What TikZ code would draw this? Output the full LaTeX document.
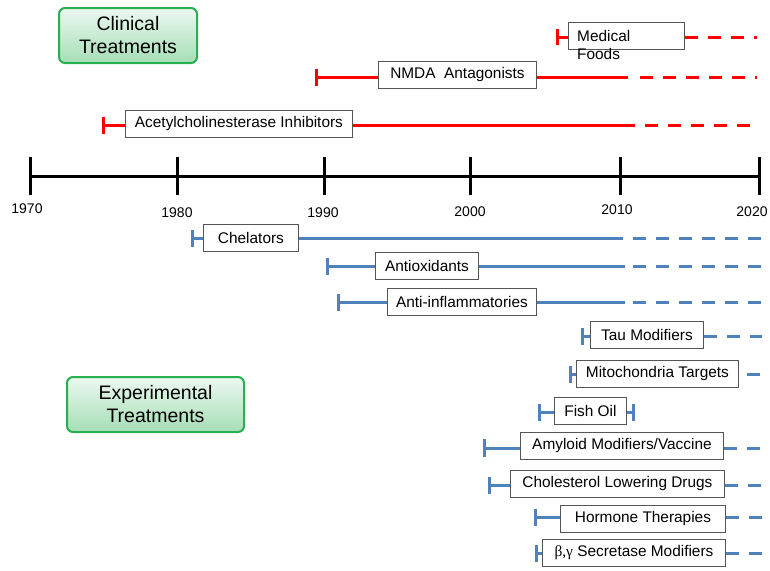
\documentclass[tikz,border=0pt]{standalone}
\usepackage{fontspec}
\setmainfont{Liberation Sans}
\newfontfamily\greekserif{Liberation Serif}
\definecolor{tlred}{RGB}{255,0,0}
\definecolor{tlblue}{RGB}{79,129,189}
\definecolor{boxgray}{RGB}{85,85,85}
\definecolor{tgreen}{RGB}{40,175,80}
\definecolor{tlight}{RGB}{236,248,240}
\definecolor{tdark}{RGB}{165,222,182}
\tikzset{
  box/.style={draw=boxgray, line width=0.9pt, fill=white, minimum height=27pt, inner sep=0pt, font=\fontsize{15.4}{18}\selectfont, anchor=west},
  rl/.style={draw=tlred, line width=3pt},
  bl/.style={draw=tlblue, line width=3pt},
  dsh/.style={dash pattern=on 13pt off 10pt},
  title/.style={draw=tgreen, line width=2pt, rounded corners=6pt, top color=tlight, bottom color=tdark, align=center, font=\fontsize{19.5}{23}\selectfont, inner sep=0pt},
  yr/.style={font=\fontsize{14}{16}\selectfont},
  tickline/.style={line width=3pt, draw=black}
}
\begin{document}
\begin{tikzpicture}[x=1pt,y=-1pt]
\useasboundingbox (0,0) rectangle (770,570);
% titles
\node[title, minimum width=138pt, minimum height=55pt] (clin) at (128,35.5) {Clinical\\Treatments};
\node[title, minimum width=177pt, minimum height=55pt] (expt) at (155.5,404.5) {Experimental\\Treatments};
% axis
\coordinate (t1970) at (30,176);
\coordinate (t1980) at (177,176);
\coordinate (t1990) at (324,176);
\coordinate (t2000) at (470,176);
\coordinate (t2010) at (620,176);
\coordinate (t2020) at (759,176);
\draw[tickline] (t1970) -- (t2020);
\foreach \t in {t1970,t1980,t1990,t2000,t2010,t2020}
  \draw[tickline] ([yshift=19pt]\t) -- ([yshift=-19pt]\t);
\node[yr] (y1970) at (27,209) {1970};
\node[yr] (y1980) at (177,213) {1980};
\node[yr] (y1990) at (323,213) {1990};
\node[yr] (y2000) at (470,212) {2000};
\node[yr] (y2010) at (617,210) {2010};
\node[yr] (y2020) at (752,212) {2020};
% ---------- clinical (red)
% Medical Foods
\coordinate (bmf) at (557,37);
\node[box, minimum width=116pt] (mf) at (568,35.5) {};
\node[anchor=north west, align=left, inner sep=0pt, font=\fontsize{15.4}{18}\selectfont] (mftext) at (577,30.5) {Medical\\Foods};
\coordinate (emf) at (757,37);
\draw[rl] ([yshift=8pt]bmf) -- ([yshift=-8pt]bmf);
\draw[rl] (bmf) -- (mf.west |- bmf);
\draw[rl,dsh] (mf.east |- bmf) -- (emf);
% NMDA
\coordinate (bnm) at (316,77);
\node[box, minimum width=158pt] (nmda) at (378,75) {NMDA\ \ Antagonists};
\coordinate (snm) at (628,77);
\coordinate (dnm) at (640,77);
\coordinate (enm) at (757,77);
\draw[rl] ([yshift=8.5pt]bnm) -- ([yshift=-8.5pt]bnm);
\draw[rl] (bnm) -- (nmda.west |- bnm);
\draw[rl] (nmda.east |- bnm) -- (snm);
\draw[rl,dsh] (dnm) -- (enm);
% AChE
\coordinate (bac) at (103,125);
\node[box, minimum width=227pt] (ache) at (125,123.5) {Acetylcholinesterase Inhibitors};
\coordinate (sac) at (635,125);
\coordinate (dac) at (645,125);
\coordinate (eac) at (758,125);
\draw[rl] ([yshift=8.5pt]bac) -- ([yshift=-8.5pt]bac);
\draw[rl] (bac) -- (ache.west |- bac);
\draw[rl] (ache.east |- bac) -- (sac);
\draw[rl,dsh] (dac) -- (eac);
% ---------- experimental (blue)
% Chelators
\coordinate (bch) at (192,238);
\node[box, minimum width=95pt] (chel) at (203,237.5) {Chelators};
\coordinate (sch) at (623,238);
\coordinate (dch) at (633,238);
\coordinate (ech) at (770,238);
\draw[bl] ([yshift=8.5pt]bch) -- ([yshift=-8.5pt]bch);
\draw[bl] (bch) -- (chel.west |- bch);
\draw[bl] (chel.east |- bch) -- (sch);
\draw[bl,dsh] (dch) -- (ech);
% Antioxidants
\coordinate (bao) at (327,266);
\node[box, minimum width=103pt] (antiox) at (375,265.5) {Antioxidants};
\coordinate (sao) at (625,266);
\coordinate (dao) at (633,266);
\coordinate (eao) at (765,266);
\draw[bl] ([yshift=8.5pt]bao) -- ([yshift=-8.5pt]bao);
\draw[bl] (bao) -- (antiox.west |- bao);
\draw[bl] (antiox.east |- bao) -- (sao);
\draw[bl,dsh] (dao) -- (eao);
% Anti-inflammatories
\coordinate (bai) at (338,302);
\node[box, minimum width=149pt] (antiinf) at (387,301.5) {Anti-inflammatories};
\coordinate (sai) at (625,302);
\coordinate (dai) at (633,302);
\coordinate (eai) at (765,302);
\draw[bl] ([yshift=8.5pt]bai) -- ([yshift=-8.5pt]bai);
\draw[bl] (bai) -- (antiinf.west |- bai);
\draw[bl] (antiinf.east |- bai) -- (sai);
\draw[bl,dsh] (dai) -- (eai);
% Tau
\coordinate (bta) at (582,336);
\node[box, minimum width=113pt] (tau) at (590,335) {Tau Modifiers};
\coordinate (eta) at (762,336);
\draw[bl] ([yshift=8.5pt]bta) -- ([yshift=-8.5pt]bta);
\draw[bl] (bta) -- (tau.west |- bta);
\draw[bl,dsh] (tau.east |- bta) -- (eta);
% Mitochondria
\coordinate (bmi) at (570,374);
\node[box, minimum width=162pt] (mito) at (576,373.5) {Mitochondria Targets};
\coordinate (dmi) at (747,374);
\coordinate (emi) at (770,374);
\draw[bl] ([yshift=8.5pt]bmi) -- ([yshift=-8.5pt]bmi);
\draw[bl] (bmi) -- (mito.west |- bmi);
\draw[bl,dsh] (dmi) -- (emi);
% Fish Oil
\coordinate (bfo) at (539,412);
\node[box, minimum width=72pt] (fish) at (554,410.5) {Fish Oil};
\coordinate (efo) at (633,412);
\draw[bl] ([yshift=8.5pt]bfo) -- ([yshift=-8.5pt]bfo);
\draw[bl] (bfo) -- (fish.west |- bfo);
\draw[bl] (fish.east |- efo) -- (efo);
\draw[bl] ([yshift=8.5pt]efo) -- ([yshift=-8.5pt]efo);
% Amyloid
\coordinate (bam) at (484,448);
\node[box, minimum width=203pt] (amyl) at (520,445.5) {Amyloid Modifiers/Vaccine};
\coordinate (eam) at (770,448);
\draw[bl] ([yshift=9pt]bam) -- ([yshift=-9pt]bam);
\draw[bl] (bam) -- (amyl.west |- bam);
\draw[bl,dsh] (amyl.east |- bam) -- (eam);
% Cholesterol
\coordinate (bcl) at (489,485);
\node[box, minimum width=214pt] (chol) at (510,484) {Cholesterol Lowering Drugs};
\coordinate (ecl) at (762,485);
\draw[bl] ([yshift=8.5pt]bcl) -- ([yshift=-8.5pt]bcl);
\draw[bl] (bcl) -- (chol.west |- bcl);
\draw[bl,dsh] (chol.east |- bcl) -- (ecl);
% Hormone
\coordinate (bho) at (535,517);
\node[box, minimum width=165pt] (horm) at (560,519) {Hormone Therapies};
\coordinate (eho) at (762,517);
\draw[bl] ([yshift=8.5pt]bho) -- ([yshift=-8.5pt]bho);
\draw[bl] (bho) -- (horm.west |- bho);
\draw[bl,dsh] (horm.east |- bho) -- (eho);
% Secretase
\coordinate (bse) at (536,553);
\node[box, minimum width=183pt] (sec) at (542,552.5) {{\greekserif β,γ} Secretase Modifiers};
\coordinate (ese) at (762,553);
\draw[bl] ([yshift=8.5pt]bse) -- ([yshift=-8.5pt]bse);
\draw[bl] (bse) -- (sec.west |- bse);
\draw[bl,dsh] (sec.east |- bse) -- (ese);
\end{tikzpicture}
\end{document}
